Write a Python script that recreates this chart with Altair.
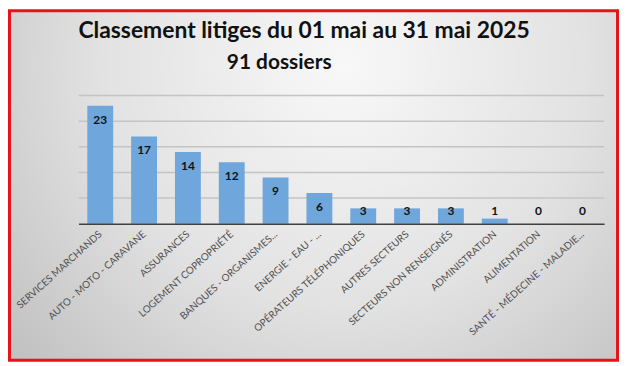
import altair as alt
import pandas as pd

categories = [
    "SERVICES MARCHANDS",
    "AUTO - MOTO - CARAVANE",
    "ASSURANCES",
    "LOGEMENT COPROPRIÉTÉ",
    "BANQUES - ORGANISMES...",
    "ENERGIE - EAU - ...",
    "OPÉRATEURS TÉLÉPHONIQUES",
    "AUTRES SECTEURS",
    "SECTEURS NON RENSEIGNÉS",
    "ADMINISTRATION",
    "ALIMENTATION",
    "SANTÉ - MÉDECINE - MALADIE...",
]
values = [23, 17, 14, 12, 9, 6, 3, 3, 3, 1, 0, 0]
grid_values = [5, 10, 15, 20, 25]
title_main = ["Classement litiges du 01 mai au 31 mai 2025"]
title_sub = ["91 dossiers"]

FONT = "Lato"

df = pd.DataFrame({"cat": categories, "v": values})
grid_df = pd.DataFrame({"g": grid_values})
one = pd.DataFrame({"a": [0]})

yscale = alt.Scale(domain=[0, 25], nice=False)
xscale = alt.Scale(paddingInner=0.41, paddingOuter=0.2)

xaxis = alt.Axis(
    labelAngle=-42,
    labelFont=FONT,
    labelFontSize=10,
    labelColor="#505050",
    labelPadding=5,
    labelOffset=-3,
    ticks=False,
    domainColor="#404040",
    domainWidth=1.5,
    labelLimit=200,
    title=None,
    zindex=1,
)

gradient = {
    "gradient": "radial",
    "x1": 0.55, "y1": 0.3, "r1": 0,
    "x2": 0.55, "y2": 0.3, "r2": 0.8,
    "stops": [
        {"offset": 0, "color": "#f8f8f8"},
        {"offset": 0.5, "color": "#e2e2e2"},
        {"offset": 1, "color": "#b9b9b9"},
    ],
}

bg = alt.Chart(one).mark_rect(fill=gradient, stroke="#e8121a", strokeWidth=3).encode(
    x=alt.value(-69.5), x2=alt.value(542.5), y=alt.value(-85.5), y2=alt.value(266.5)
)

grid = alt.Chart(grid_df).mark_rule(color="#c4c4c4", strokeWidth=1.5).encode(
    y=alt.Y("g:Q", scale=yscale, axis=None)
)

bars = alt.Chart(df).mark_bar(color="#6fa6dc").encode(
    x=alt.X("cat:N", sort=categories, scale=xscale, axis=xaxis),
    y=alt.Y("v:Q", scale=yscale, axis=None),
)

labels = alt.Chart(df).transform_calculate(
    lp="max(datum.v, 5.2)"
).mark_text(font=FONT, fontSize=12, fontWeight="bold", color="#111111", dy=14).encode(
    x=alt.X("cat:N", sort=categories, scale=xscale, axis=xaxis),
    y=alt.Y("lp:Q", scale=yscale, axis=None),
    text=alt.Text("v:Q"),
)

t1 = alt.Chart(pd.DataFrame({"t": title_main})).mark_text(
    font=FONT, fontSize=23, fontWeight="bold", color="#111111", align="center", baseline="middle"
).encode(x=alt.value(227), y=alt.value(-65), text="t:N")

t2 = alt.Chart(pd.DataFrame({"t": title_sub})).mark_text(
    font=FONT, fontSize=21, fontWeight="bold", color="#111111", align="center", baseline="middle"
).encode(x=alt.value(202), y=alt.value(-33), text="t:N")

chart = alt.layer(bg, grid, bars, labels, t1, t2).properties(
    width=529,
    height=129,
    padding={"left": 71, "top": 87, "right": 15, "bottom": 139},
    autosize=alt.AutoSizeParams(type="none"),
    background="transparent",
).configure_view(stroke=None)

chart.save("out.html", embed_options={"renderer": "svg", "actions": False})
